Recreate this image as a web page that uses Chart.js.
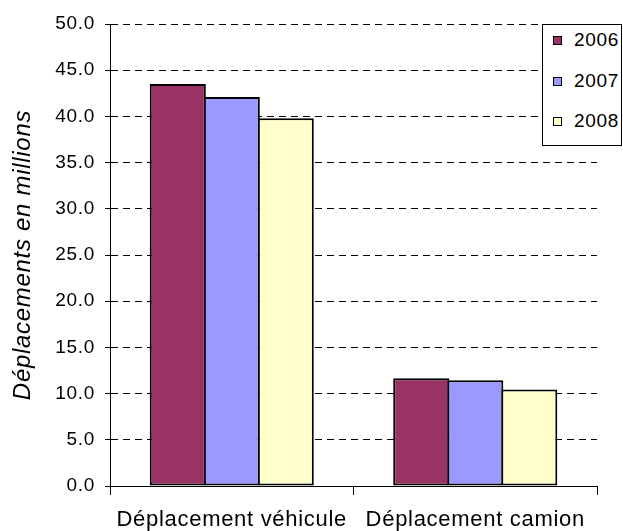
<!DOCTYPE html>
<html>
<head>
<meta charset="utf-8">
<script src="https://cdn.jsdelivr.net/npm/chart.js"></script>
<style>
  html, body { margin: 0; padding: 0; background: #fff; }
  #wrap { position: relative; width: 623px; height: 531px; }
  #legend {
    position: absolute; left: 542px; top: 24px; width: 80px; height: 122px;
    box-sizing: border-box; border: 1px solid #000; background: #fff;
    font-family: "Liberation Sans", Arial, sans-serif; font-size: 19px; color: #000;
    letter-spacing: 0.7px;
  }
  #legend .item { position: absolute; left: 10px; height: 20px; line-height: 20px; white-space: nowrap; }
  #legend .box { display: inline-block; width: 7px; height: 7px; border: 1px solid #000; margin-right: 12px; vertical-align: 1px; }
</style>
</head>
<body>
<div id="wrap">
  <canvas id="chart" width="623" height="531"></canvas>
  <div id="legend"></div>
</div>
<script>
// data
const categories = ['Déplacement véhicule', 'Déplacement camion'];
const years = ['2006', '2007', '2008'];
const values2006 = [43.5, 11.65];
const values2007 = [42.1, 11.45];
const values2008 = [39.8, 10.45];
const yTicks = [0, 5, 10, 15, 20, 25, 30, 35, 40, 45, 50];
const colors = ['#993366', '#9999FF', '#FFFFCC'];

const seriesValues = [values2006, values2007, values2008];
const font = 'Liberation Sans, Arial, sans-serif';

const datasets = years.map(function(y, i) {
    return {
        label: y,
        data: seriesValues[i],
        backgroundColor: colors[i],
        borderColor: '#000',
        borderWidth: 2,
        borderSkipped: false,
        barPercentage: 1.04,
        categoryPercentage: 0.665
    };
});

// legend as html, built from the same arrays
const legendEl = document.getElementById('legend');
years.forEach(function(y, i) {
    const item = document.createElement('div');
    item.className = 'item';
    item.style.top = (5 + i * 40.5) + 'px';
    item.innerHTML = '<span class="box" style="background:' + colors[i] + '"></span>' + y;
    legendEl.appendChild(item);
});

// the original text is set a bit loose, so add some letter spacing on the canvas
const spacing = {
    id: 'spacing',
    beforeLayout: function(c) { c.ctx.letterSpacing = '0.7px'; },
    beforeDraw: function(c) { c.ctx.letterSpacing = '0.7px'; }
};

const ctx = document.getElementById('chart').getContext('2d');
new Chart(ctx, {
    type: 'bar',
    data: { labels: categories, datasets: datasets },
    plugins: [spacing],
    options: {
        responsive: false,
        animation: false,
        layout: { padding: { top: 24, right: 26, left: 0, bottom: 0 } },
        plugins: {
            legend: { display: false },
            tooltip: { enabled: false }
        },
        scales: {
            x: {
                afterFit: function(s) { s.height = 45; },
                grid: {
                    display: true,
                    offset: true,
                    drawOnChartArea: false,
                    drawTicks: true,
                    tickLength: 9,
                    color: '#000',
                    lineWidth: 1
                },
                border: { display: true, color: '#000', width: 1 },
                ticks: {
                    color: '#000',
                    padding: 12,
                    autoSkip: false,
                    font: { family: font, size: 22 },
                    maxRotation: 0
                }
            },
            y: {
                min: 0,
                max: 50,
                afterFit: function(s) { s.width = 110; },
                afterBuildTicks: function(s) {
                    s.ticks = yTicks.map(function(v) { return { value: v }; });
                },
                grid: {
                    color: '#000',
                    lineWidth: 1,
                    drawTicks: true,
                    tickLength: 5,
                    tickBorderDash: [],
                    tickColor: '#000'
                },
                border: { display: true, color: '#000', width: 1, dash: [7, 5] },
                ticks: {
                    color: '#000',
                    padding: 10,
                    font: { family: font, size: 19 },
                    callback: function(v) { return Number(v).toFixed(1); }
                },
                title: {
                    display: true,
                    text: 'Déplacements en millions',
                    color: '#000',
                    font: { family: font, size: 24, style: 'italic' },
                    padding: { top: 9, bottom: 0 }
                }
            }
        }
    }
});
</script>
</body>
</html>
